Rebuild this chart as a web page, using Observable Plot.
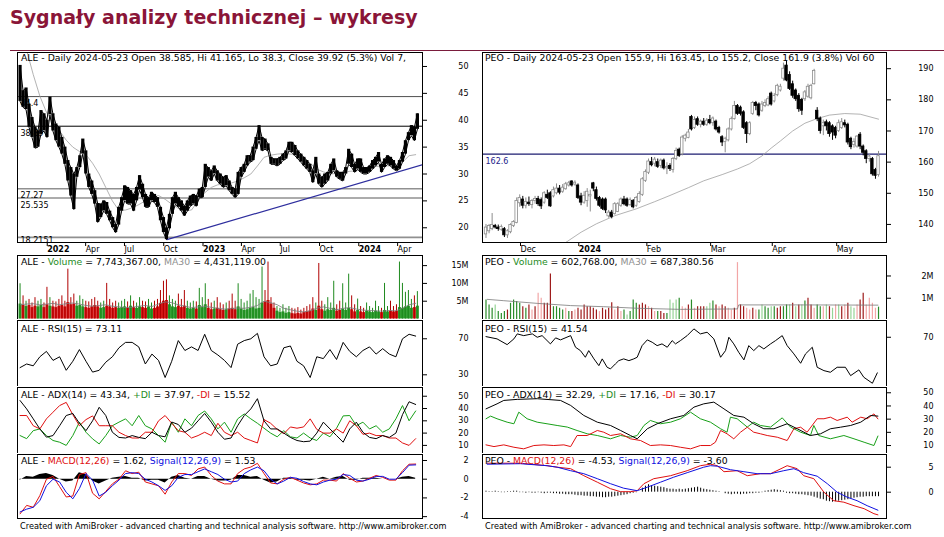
<!DOCTYPE html>
<html><head><meta charset="utf-8">
<script src="https://cdn.jsdelivr.net/npm/d3@7"></script>
<script src="https://cdn.jsdelivr.net/npm/@observablehq/plot@0.6"></script>
<style>
body{margin:0;background:#fff;}
#root{position:relative;width:944px;height:537px;overflow:hidden;background:#fff;font-family:"DejaVu Sans",sans-serif;}
.t{position:absolute;font:9.3px/1 "DejaVu Sans",sans-serif;white-space:nowrap;color:#000;}
.f{font-size:8.2px;}
</style></head><body><div id="root"></div><script>
// ================= DATA =================
const pageTitle = "Sygnały analizy technicznej – wykresy";
const footerText = "Created with AmiBroker - advanced charting and technical analysis software. http://www.amibroker.com";

// ---- ALE (weekly samples from 2021-11-03, 7 days apart) ----
const aleHi = [50.2,45.5,46.0,43.0,40.5,38.7,38.0,41.8,41.2,40.0, 44.3,41.2,39.3,38.7,36.8,35.0,32.5,31.2,30.0,31.2, 33.4,36.5,34.3,30.0,28.7,26.9,24.5,24.4,25.0,24.7, 23.1,21.9,20.6,23.8,25.6,27.8,27.5,26.9,26.2,27.5, 29.7,28.1,26.2,25.6,26.6,26.2,25.6,23.8,21.9,20.0, 22.5,25.6,26.6,25.6,25.0,24.0,25.0,25.9,26.2,25.9, 27.2,27.5,31.8,31.2,30.6,31.5,30.6,30.0,29.4,29.7, 28.7,27.5,27.2,30.3,31.2,31.8,33.4,33.4,35.0,36.8, 39.0,36.8,36.5,35.6,33.1,32.8,32.8,33.1,33.7,34.3, 35.9,35.9,35.3,34.3,33.7,33.1,32.5,31.8,30.6,33.1, 30.0,29.4,30.0,30.3,31.8,32.8,30.6,30.3,30.3,31.2, 34.6,33.7,31.8,32.8,32.8,31.2,31.2,31.5,32.5,33.1, 34.0,31.8,32.8,33.4,33.1,32.5,31.5,32.5,34.0,36.2, 37.7,39.0,38.7,41.2];
const aleLo = [43.5,42.4,42.0,38.7,36.8,34.8,35.0,37.4,38.0,36.8, 41.0,38.0,36.2,35.0,33.7,31.8,28.7,25.9,23.4,29.4, 31.2,33.7,30.0,27.5,26.2,24.4,21.0,21.9,23.1,22.5, 21.3,20.0,19.1,20.5,23.1,25.0,24.4,24.4,23.1,25.0, 27.0,25.6,23.8,23.8,25.0,24.7,23.8,21.3,19.1,17.8, 19.8,22.5,24.4,23.8,23.1,22.2,23.1,24.0,24.4,24.0, 25.6,25.6,27.5,29.4,28.7,30.0,28.7,28.1,27.5,27.8, 26.9,26.2,25.6,26.2,29.4,30.3,31.5,32.2,32.5,34.6, 36.2,34.3,34.6,34.3,31.8,31.8,31.5,31.8,32.5,32.8, 34.3,34.0,33.4,32.8,32.2,31.5,30.9,30.3,28.4,30.0, 28.1,27.5,28.1,28.7,30.0,30.6,29.4,29.0,28.7,30.0, 31.8,31.2,30.3,30.9,30.3,30.0,30.0,30.3,30.9,31.5, 32.2,30.3,31.2,31.8,31.5,30.9,30.6,30.9,32.2,33.7, 36.2,37.1,36.2,38.3];
const aleVolPeak = [9.9,6.5,5.0,5.5,4.5,6.0,5.0,5.5,4.5,8.9, 6.0,5.0,4.8,5.5,6.5,5.0,14.0,6.0,7.0,5.0, 6.5,5.5,5.0,4.8,5.5,6.0,5.0,4.5,5.0,10.0, 5.5,4.5,5.0,4.5,5.0,5.5,4.8,6.5,5.0,4.5, 6.0,5.0,4.8,5.5,4.5,5.0,5.5,8.0,10.6,11.0, 6.5,5.5,5.0,7.0,5.5,8.0,5.0,4.5,5.0,4.8, 8.6,6.0,9.9,5.5,4.5,5.0,6.0,4.5,4.0,4.5, 5.0,7.0,5.0,9.9,5.5,4.5,5.0,7.0,8.0,6.0, 5.5,14.6,8.0,16.0,6.0,4.5,3.5,3.0,4.0,3.0, 3.5,3.0,2.8,3.2,2.5,3.0,3.5,4.0,6.0,4.5, 15.6,5.0,4.0,6.0,4.5,10.6,4.0,5.0,9.9,4.5, 12.6,6.5,4.0,5.6,3.5,3.0,4.5,3.5,3.0,5.0, 3.5,3.0,10.0,3.5,5.0,3.5,4.0,16.0,10.0,7.5, 8.0,5.5,6.5,7.7];
const aleVolBase = [4.2,3.8,3.5,3.8,3.2,3.6,3.4,3.8,3.2,4.0, 3.6,3.4,3.2,3.6,3.8,3.4,4.6,4.0,4.2,3.6, 3.8,3.4,3.2,3.0,3.4,3.8,3.4,3.0,3.2,3.6, 3.4,3.0,3.2,3.0,3.2,3.4,3.0,3.6,3.2,3.0, 3.4,3.2,3.0,3.4,2.8,3.0,3.4,4.4,5.0,5.2, 4.0,3.4,3.2,3.6,3.2,3.6,3.0,2.8,3.0,2.8, 3.8,3.2,4.0,3.0,2.6,2.8,3.0,2.6,2.4,2.6, 2.8,3.0,2.6,3.4,2.8,2.4,2.6,3.0,3.2,2.8, 3.0,4.5,4.8,5.2,4.2,3.0,2.2,1.8,2.0,1.6, 1.8,1.5,1.4,1.6,1.4,1.8,2.0,2.2,2.8,2.4, 3.6,2.6,2.2,2.6,2.4,3.0,2.2,2.4,2.8,2.4, 3.0,2.6,2.0,2.4,2.0,1.8,2.2,2.0,1.8,2.2, 2.0,1.8,2.4,2.0,2.2,2.0,2.2,3.2,3.0,3.4, 3.6,3.0,3.2,3.6];
const aleVolDir = "grgrrrggrr"+"grrrrrrrrg"+"ggrrrrrggr"+"rrrgggrgrg"+"grrggrrrrr"+"gggrrrgggr"+"gggrrgrrrg"+"rrrggggggg"+"ggrrrrgggg"+"grrrrrrrrg"+"rrggggrrgg"+"grrgrrgggg"+"grggrrrggg"+"ggrg";

// ---- ALE indicators (samples from 2021-11-03, 15.45 days apart) ----
const aleMA = [null,53,48.5,44.5,41.5,39.5,38,36.3,35,34.2, 33.6,32,30,27.5,25,23.2,23.3,23.7,24.3,25, 25.6,26,25.3,24.4,23.6,23.2,23.3,25,26.5,27.5, 28,28.1,28.3,28.7,29.3,30,31.5,33.1,33.5,33.7, 33.8,33.7,33.6,33.2,32,30.9,30.4,30,30.1,30.3, 30.5,30.6,30.9,31.2,31.4,31.5,31.5,31.5,32.2,33.4, 33.6];
const aleVolMA = [4.0,4.2,4.3,4.0,4.2,4.4,4.0,4.3,4.5,4.2, 3.8,3.6,3.8,4.0,3.6,3.4,3.2,3.3,3.6,3.8, 3.5,4.2,4.8,4.6,4.0,3.6,3.2,3.4,3.6,3.3, 3.0,2.8,2.9,3.1,3.0,3.3,3.8,5.0,4.6,4.0, 3.0,2.6,2.2,2.0,2.3,3.0,3.4,3.0,2.6,3.0, 3.2,2.8,2.5,2.4,2.3,2.2,2.4,2.3,3.0,4.0, 4.4];
const aleRsi = [38,42,40,50,56,46,50,35,45,58, 45,33,35,44,50,60,66,66,61,42, 53,46,27,45,68,57,61,57,75,57, 52,46,38,64,68,70,76,50,40,42, 60,62,45,40,27,50,48,58,47,66, 56,50,57,61,53,59,53,50,70,75, 73];
const aleAdx = [46.5,39.7,31.6,23.4,16.7,18,26,34.3,36,28, 22,30,41,34.3,20.7,16.5,16,18,16.5,15.5, 20.7,18,17,29,27,20.7,24,30,36,28.9, 20.7,15,16,26,34.3,39.7,48,30,23.4,23.4, 20,16.5,14,13,13.5,20,28.9,23.4,18,12.6, 23.4,28.9,20.7,16.5,15.5,18,16.5,20,35,45.5, 43.3];
const alePdi = [18,15.5,22,23.4,18,14,12.6,10,18,28.9, 20.7,15.3,11.2,18,26,28.9,31.6,26,34.3,26, 23.4,18,12.6,28.9,20.7,31.6,26,34.3,38,31.6, 23.4,28.9,20.7,31.6,35.6,31.6,28,24,20,17, 22,17,16,20,16,14,20,17,24,34, 34.3,26,28.9,23.4,26,20.7,23.4,31.6,42.4,30, 38];
const aleMdi = [34.3,34.3,26,23.4,31.6,37,42.4,45,35,26, 31,34,26,26,26,20.7,18,16,16,20.7, 20.7,30,34.3,28,22,20.7,16,18,20.7,18, 28,20.7,18,20.7,16,14,12,31,28,23, 19.5,25,24,25,31.6,23,20,20,23.4,20, 30,26,19,20,18,18,16,16,12,10, 15.5];
const aleMacd = [-3.7,-2.8,-3.0,-1.75,0.0,0.3,-0.8,-1.9,-1.8,0.5, 0.7,-1.5,-2.1,-1.3,-0.5,0.0,0.9,0.6,0.75,-0.3, -0.5,-0.7,-1.6,-0.3,0.6,0.6,0.4,1.1,1.3,0.4, -0.2,-0.5,-0.5,0.6,1.1,1.3,1.7,0.6,-0.4,-0.5, 0.0,0.2,-0.1,-0.4,-0.6,-0.5,-0.1,-0.1,-0.2,0.6, 0.1,-0.3,-0.2,0.1,0.4,0.2,-0.1,-0.1,0.9,1.6, 1.62];
const aleSignal = [-3.5,-3.2,-3.0,-2.3,-0.7,0.0,-0.3,-1.4,-2.1,-1.0, 0.6,-0.1,-1.8,-1.4,-0.7,-0.1,0.6,0.7,0.6,0.0, -0.3,-0.7,-1.2,-0.7,0.2,0.5,0.5,0.8,1.1,0.8, 0.5,0.0,-0.3,-0.2,0.6,1.0,1.3,0.9,0.0,-0.5, -0.2,0.2,0.1,-0.25,-0.5,-0.6,-0.3,-0.1,0.0,0.5, 0.4,-0.1,-0.2,0.0,0.3,0.3,0.0,0.0,0.7,1.5, 1.53];
const aleHist = [-0.1,0.3,0.2,0.5,0.6,0.4,0.0,-0.3,-0.2,0.7, 0.5,-0.2,-0.5,-0.2,0.1,0.2,0.3,0.1,0.1,-0.2, -0.1,-0.1,-0.4,0.2,0.4,0.1,0.0,0.3,0.3,0.0, -0.2,-0.2,-0.1,0.4,0.4,0.2,0.3,-0.1,-0.4,-0.3, 0.1,0.1,-0.1,-0.1,-0.2,0.0,0.2,0.0,0.2,0.3, -0.1,-0.1,0.1,0.1,0.1,0.0,0.0,0.0,0.2,0.3, 0.1];
const aleLevels = [44.4, 38.89, 27.27, 25.535, 18.2151];
const aleLevelLabels = ["44.4", "38.89", "27.27", "25.535", "18.2151"];
const aleTrendDates = ["2022-10-13", "2024-06-02"];
const aleTrendValues = [17.8, 31.7];
const aleMonthTicks = ["2022-04-01","2022-07-01","2022-10-01","2023-04-01","2023-07-01","2023-10-01","2024-04-01"];
const aleYearTicks = ["2022-01-01","2023-01-01","2024-01-01"];
const aleTitles = {
  price: "ALE - Daily 2024-05-23 Open 38.585, Hi 41.165, Lo 38.3, Close 39.92 (5.3%) Vol 7,",
  vol: ["ALE - ", "Volume", " = 7,743,367.00, ", "MA30", " = 4,431,119.00"],
  rsi: "ALE - RSI(15) = 73.11",
  adx: ["ALE - ADX(14) = 43.34, ", "+DI", " = 37.97, ", "-DI", " = 15.52"],
  macd: ["ALE - ", "MACD(12,26)", " = 1.62, ", "Signal(12,26,9)", " = 1.53"]
};

// ---- PEO (daily candles, trading-day index 0..128, 2023-11-16 .. 2024-05-23) ----
const peoOpen = [136.8,137.8,138.5,139.5,139,138.3,138.5,136.5,137.5,139.5, 140.5,146.8,148,146,147,146.2,147.5,148.2,147.8,147, 149.5,150,149,150,151.5,150.5,151.3,152.5,153.8,152.8, 152.5,149,147,147.5,149,153.2,151,148.5,148,148, 142.6,143.8,143.3,144,146,148,148,146.2,147.5,146, 147.2,149.5,154,156.6,160,159.5,160,158.8,160.5,158, 158.8,157.5,161,164,162.5,167.5,167.8,174.5,171,173.8, 172,173,172,173.5,172.5,173,171,168,166.5,167, 170.5,173.8,178,177.5,176,172.5,169,175.5,179,178.5, 176.5,178,178.2,182,179.5,181.5,183,186.8,191,188, 185,183,181.3,180,180.2,181,180.5,185,176.5,174, 171.5,172.8,172.5,171.5,171,170,171,172.5,172,167.5, 165.5,165,168.8,165,163.5,161,161,157.5,155.9];
const peoHigh = [140,140,143.5,140,139.8,139.8,139,138.3,140.2,141.2, 148.5,149.5,149,148.5,148.8,148,149,149,148.5,150.5, 151,150.5,152,153,152.5,152.8,153.5,153.8,154,154, 153,150,150.5,151.5,151,153.5,152,149,148.5,148.5, 144.5,144.5,147,147,148.5,149,148.5,148.5,148,149, 150.5,155,157.5,161,161.5,161.5,161,161,161,159.8, 159.5,161.5,164.5,164.5,168.5,169,170.5,175,174.5,174.5, 173.5,174,174,175,174.5,173.5,171.5,168.5,168,171, 174.5,179.5,178.5,178,176.5,173,173,179.5,179.5,179, 179.5,180,181,182.5,182,185,185,191.8,192.5,189, 186,183.5,182,180.5,183,185,185,189.8,177.5,174.5, 173.5,173.5,173,172,171.5,173.5,174,173.5,172.5,168, 167.5,168.5,169.5,165.5,164,162.5,161.5,158,163.45];
const peoLow = [135.5,137,138,138.5,137.8,137.8,135.8,135.5,137,139, 140.2,145.5,145,145,145.8,145,146.5,145.8,144.8,146.5, 148,145.5,148.5,149.5,149.5,150,151,152,152,152.3, 148,146,146.5,145.5,144,150.5,147.5,145.5,144.5,143.5, 142,141.8,143,143.8,145.5,146,145.5,145.8,145,145.5, 146.8,149,153.5,156,158.5,158.5,158,158,157.5,156, 157,156.5,160.5,161.5,162,166.5,167.5,170,170.5,171.5, 171,171.5,171.5,172,171.5,170,169,165,163,166.5, 170,173.5,175,174.8,170.5,166,168.5,175,176.5,174.5, 176,177.5,177.8,178,179,181,182.5,186,185.8,183, 180.5,179.5,176,175,179.5,180.5,180,184.8,173,169, 168.5,170,168,167,167.5,169.5,170.5,171,165.5,164, 164.5,164.5,164,162,159.5,160,155.5,154.5,155.2];
const peoClose = [139,139.5,139.8,139,138.5,139.2,136.5,137.8,139.8,140.8, 147.5,148.5,146,147.2,146.5,147.5,148.2,146.5,145.8,150, 148.5,145.8,151,151.5,150.2,151.8,152.9,153.2,152.5,153.4, 148.5,147,149.2,150.5,149.5,151.5,148.2,146,145,144.5, 143.8,142.4,146.5,146.5,148,146.5,146,147.8,145.5,148.5, 149.8,154.5,156.8,160.2,159,160.8,158.5,160.5,158,158.5, 157.8,161,163.6,162,167.9,168.5,169.5,170.5,173.5,172, 173,172,173.3,172.5,174,170.5,169.5,166.3,167.5,170.5, 173.8,178,175.5,175.5,171,169,172.5,179,178,175, 178.5,179,180.2,178.5,181.2,184.5,184.2,190,186.2,183.5, 181.3,180.2,177,176.5,182.4,184.2,184.5,189.3,173.8,170, 172.5,171.5,169,169.5,168.5,172.5,172.8,171.8,166.3,164.8, 166.5,168.2,165,163,161,161.8,156.1,155.6,161.9];
const peoVol = [0.92,0.70,0.55,0.70,0.40,0.32,0.40,0.47,0.77,0.92, 0.85,0.77,0.62,0.55,0.70,0.47,0.62,1.22,1.00,0.77, 0.77,2.09,0.62,0.62,0.55,0.47,0.55,0.40,0.40,0.47, 0.55,0.47,0.70,0.62,0.62,0.55,0.47,0.40,0.55,0.47, 0.55,0.80,0.47,0.62,0.40,0.47,0.25,0.40,0.92,0.77, 0.70,0.77,0.70,0.62,0.55,0.40,0.40,0.40,0.32,0.32, 0.92,0.77,0.92,1.00,0.62,0.55,0.70,0.92,0.55,0.62, 0.62,0.62,0.62,0.77,0.88,0.70,0.62,0.70,0.62,0.55, 0.47,0.55,2.60,0.70,0.62,0.55,0.47,0.55,0.47,0.47, 0.70,0.62,0.55,0.62,0.62,0.55,0.62,0.62,0.70,0.70, 0.77,0.62,0.70,0.70,0.88,1.00,0.70,0.55,0.70,0.62, 0.62,0.70,0.62,0.55,0.70,0.70,0.62,0.70,0.77,0.62, 0.55,0.70,0.92,1.22,0.70,1.00,0.77,0.55,0.60];
const peoVolCol = "GGGgGGGRGG"+"GGRGRpRppR"+"RRGGGGpGRp"+"RRRRRRRpRR"+"RRpRpGgGGG"+"RRRpRpGRRG"+"gggGppRGpR"+"RRggGRpRRp"+"pRpRRppRpG"+"gGGgGRRGGg"+"RgRgGRRpGG"+"pgRgpgRpRg"+"gpRRppppG";
const peoVolMAIdx = [0.4,5.8,16.7,27.6,38.4,49.3,63.4,82,82.4,103.6,127.8];
const peoVolMA = [0.95,0.89,0.77,0.67,0.62,0.55,0.5,0.52,0.7,0.7,0.69];
const peoMAIdx = [26,31,36,42,49,55,60,66,71,77,82,86,90,93,96,100,104,108,112,117,122,128];
const peoMA = [134.2,137.5,140.2,142.8,145,147.3,149.3,151.8,154,156,157.8,159.5,162,164.5,166.8,170,172.5,174,175.1,175.6,175.4,173.8];
const peoLevel = 162.6;
const peoRsiIdx = [0,3.6,6.9,9.1,10.2,12.3,15.1,16.7,18.3,21,22.7,24.3,27.6,29.2,30.8,32.4,33.5,35.2,36.8,37.9,39.5,40.6,42.2,43.3,44.9,46.6,48.2,49.3,50.9,52.6,54.2,55.8,57.4,59.1,60.7,61.8,63.4,65.6,67.8,69.9,72.1,74.3,76.5,78.1,79.2,80.8,82.4,84.1,85.7,87.3,89,90.6,92.8,94.4,96.6,98.2,100.4,102.6,104.2,106.4,108,110.2,112.3,114.5,117.2,118.9,121.6,123.2,126,127.6];
const peoRsi = [70.5,68.7,64.1,68.7,72.7,71.3,72.7,70,71.3,64.7,69.5,67.9,71.3,62,59.3,54,59.3,52.7,47.3,52.7,46,44.7,48.7,51.3,52.7,51.3,52.7,54,63.3,67.9,66,63.3,64.7,62,67.3,64.7,67.3,71.3,76.7,72.7,74,68.7,54,59.3,70,64.7,58,51.9,63.3,59.3,63.3,60.7,64.7,67.3,71.3,63.3,56.7,49.2,56.7,62,46,43.3,42,46,46,39.3,43.9,38,33.2,41.5];
const peoAdxIdx = [0,3.6,5.8,10.2,16.7,24.3,27.6,31.9,36.3,40.6,43.9,47.1,49.3,52.6,55.8,60.2,64.5,67.8,71,74.3,77.6,80.8,84.1,87.3,90.6,93.9,98.2,101.5,105.8,109.1,112.3,115.6,118.9,122.2,125.4,127.8];
const peoAdx = [37.8,41.6,44.2,45,45.5,44.2,40.4,32.8,27.7,25.2,21.4,17.6,15.1,22.7,26.5,30.3,32.8,39.1,41.6,42.9,37.8,32.8,31.5,26.5,22.7,22.7,26.5,22.7,17.6,18.9,22.7,23.9,25.2,27.7,32.8,32.3];
const peoPdiIdx = [0,1.5,3.6,6.9,9.1,10.7,13.4,16.7,19.9,23.2,26.5,29.7,33,36.3,40.6,43.9,47.1,49.3,51.5,53.6,56.9,60.2,63.4,66.7,69.9,73.2,76.5,78.6,79.7,81.9,85.2,87.3,89.5,92.8,96.6,99.3,102.6,105.8,106.9,108.5,112.3,116.7,120,123.3,126.5,127.8];
const peoPdi = [30.3,32.3,30.3,27.7,26.5,35.3,30.3,27.7,26.5,25.2,24,21.4,18.9,17.6,15.1,17.6,16.3,17.6,25.2,29,26.5,27.7,30.3,35.3,30.3,27.7,22.7,20.1,31.5,30.3,24,27.7,25.2,24,31,24,20.1,17.6,25.2,17.6,15.1,17.6,15.1,12.5,10,17.2];
const peoMdiIdx = [0,2.6,5.8,9.1,12.3,15.6,18.9,22.1,25.4,27.6,29.7,33,36.3,38.4,40.6,43.9,47.1,50.4,53.6,56.9,60.2,63.4,66.7,69.9,73.2,74.8,76.5,78.6,80.8,83,85.2,87.3,89.5,91.7,95,98.2,100.4,102.6,104.7,108,110.2,112.3,114.5,117.8,119.4,122.2,124.3,126.5,127.8];
const peoMdi = [10.5,9.2,10.5,8.7,7.5,10,10.5,10,10.5,9.2,17.6,17.6,21.4,20.1,17.6,18.9,15.1,13.8,10,10.5,10,8.7,7.5,10,10,12.5,21.4,18.9,15.1,20.1,23.9,20.1,18.9,17.6,16.3,13.8,22.7,23.9,20.1,30.3,30.3,31.5,29,31.5,27.7,31.5,30.3,34,30.2];
const peoMacdIdx = [0.4,11.2,19.9,23.2,27.6,31.9,36.3,40.6,43.9,47.1,49.3,51.5,54.7,60.2,65.6,69.9,73.2,75.4,77.6,81.9,85.2,89.5,92.8,96.2,98.2,101.5,103.6,106.9,110.2,113.4,116.7,120,123.3,126.5,127.8];
const peoMacd = [5.8,5.8,5.3,5.0,4.7,3.3,2.0,0.7,0.1,0.1,0.3,1.7,2.7,3.3,4.3,5.3,5.6,5.3,4.1,4.3,3.3,3.7,3.7,4.7,5.3,4.7,3.3,2.7,0.0,-1.7,-2.0,-2.7,-3.3,-4.3,-4.53];
const peoSigIdx = [0.4,11.2,19.9,23.2,27.6,31.9,36.3,40.6,44.9,49.3,52.6,56.9,61.2,65.6,71,73.2,75.4,79.7,84.1,88.4,92.8,97.1,100.4,103.6,108,111.3,114.5,117.8,121,124.3,127.8];
const peoSig = [5.6,5.7,5.3,5.0,4.3,3.7,2.7,1.7,0.8,0.3,1.0,2.0,3.0,3.9,5.0,5.3,5.2,4.5,4.1,3.7,3.7,4.3,4.7,3.9,3.2,1.7,0.0,-1.0,-1.7,-2.7,-3.6];
const peoHist = [0.2,0.1,0.1,0.2,0.1,-0.1,-0.1,0.1,0.1,0.2,0.2, -0.1,-0.1,-0.2,-0.1,-0.2,-0.2,-0.1,-0.2,-0.3,-0.2,-0.2,-0.3, -0.3,-0.4,-0.4,-0.5,-0.5, -0.5,-0.6,-0.7,-0.7,-0.8,-0.8,-0.9,-0.9,-1.0,-1.0,-1.1,-1.1,-1.0, -1.0,-0.9,-0.8,-0.7,-0.6,-0.5, -0.3,-0.2,-0.1,0.0, 0.8,1.2,1.5,1.3,1.2,1.1,1.0,0.9, 0.7,0.6,0.6,0.5,0.6,0.5,0.6,0.7,0.8,0.9,1.0,0.8, 0.6,0.5,0.4,0.3,0.2,0.1,0.0, -0.3,-0.4,-0.5,-0.4,-0.4,-0.5,-0.4,-0.4,-0.3,-0.3,-0.2,-0.2,-0.1, 0.2,0.3,0.4,0.5,0.4,0.3,0.2, -0.2,-0.3,-0.3,-0.4,-0.5,-0.5,-0.6,-0.7, -0.8,-1.0,-1.2,-1.4,-1.5, -1.8,-1.9,-2.0,-1.9,-1.8,-1.7,-1.6,-1.5, -1.3,-1.2,-1.1,-1.0,-1.0,-0.9,-0.9,-0.9,-0.9,-0.9];
const peoTickIdx = [10.6, 51.8, 72.6, 92.7, 113.7];
const peoTickLabels = ["Dec", "Feb", "Mar", "Apr", "May"];
const peoYearTickIdx = [29.6];
const peoYearTickLabels = ["2024"];
const peoTitles = {
  price: "PEO - Daily 2024-05-23 Open 155.9, Hi 163.45, Lo 155.2, Close 161.9 (3.8%) Vol 60",
  vol: ["PEO - ", "Volume", " = 602,768.00, ", "MA30", " = 687,380.56"],
  rsi: "PEO - RSI(15) = 41.54",
  adx: ["PEO - ADX(14) = 32.29, ", "+DI", " = 17.16, ", "-DI", " = 30.17"],
  macd: ["PEO - ", "MACD(12,26)", " = -4.53, ", "Signal(12,26,9)", " = -3.60"]
};

// ================= BUILD =================
const DAY = 864e5;
const root = document.getElementById("root");
const FONT = "DejaVu Sans";
const RED = "#e01010", BLUE = "#1010e0", GRAY = "#a0a0a0";

const aleWeeks = aleHi.map((h, w) => ({
  date: new Date(Date.UTC(2021, 10, 3) + w * 7 * DAY), hi: h, lo: aleLo[w],
  vb: aleVolBase[w], vp: aleVolPeak[w], up: aleVolDir[w] === "g"
}));
const aleGrid = aleRsi.map((r, k) => ({
  date: new Date(Date.UTC(2021, 10, 3) + k * 15.45 * DAY), rsi: r, adx: aleAdx[k], pdi: alePdi[k], mdi: aleMdi[k],
  macd: aleMacd[k], sig: aleSignal[k], hist: aleHist[k], ma: aleMA[k], vma: aleVolMA[k]
}));
const aleTrend = aleTrendDates.map((d, i) => ({date: new Date(d), v: aleTrendValues[i]}));
const peoCandles = peoOpen.map((o, i) => ({i, o, h: peoHigh[i], l: peoLow[i], c: peoClose[i], up: peoClose[i] >= o, v: peoVol[i], vc: peoVolCol[i], hist: peoHist[i]}));
const volColors = {G: "#2a8c2a", R: "#9e1b1b", g: "#96d496", p: "#f2a6a6"};
const pts = (xs, ys) => xs.map((x, i) => ({x, y: ys[i]}));

const aleX = {type: "utc", domain: [new Date("2021-10-28"), new Date("2024-06-03")]};
const peoX = {type: "linear", domain: [-1.14, 130.6]};

function yAxis(ticks, pad, fmt) {
  return Plot.axisY(ticks, {anchor: "right", tickSize: 4, tickPadding: pad, textAnchor: "end", label: null, tickFormat: fmt || (d => d)});
}

function pane(left, top, plotH, bottom, mR, xs, yDomain, marks, showX) {
  const svg = Plot.plot({
    width: 463, height: 1 + plotH + bottom,
    marginLeft: 5, marginRight: mR, marginTop: 1, marginBottom: bottom,
    x: Object.assign({label: null}, xs, showX ? {} : {axis: null}),
    y: {domain: yDomain, label: null},
    color: {type: "identity"},
    style: {fontFamily: FONT, fontSize: "8px", color: "black", background: "white", overflow: "visible"},
    marks: [...marks, Plot.frame({stroke: "black"})]
  });
  svg.style.position = "absolute";
  svg.style.left = left + "px";
  svg.style.top = (top - 1) + "px";
  root.appendChild(svg);
}

// ---------- ALE panes ----------
const aL = 12, aR = 53, aPad = 42;
const aleLevelDy = [7, 7, 7, 7, 3];
pane(aL, 52, 190, 13, aR, aleX, [17.26, 52.6], [
  Plot.ruleY(aleLevels, {y: d => d, stroke: (d, i) => ["#505050", "#000000", "#909090", "#909090", "#909090"][i], strokeWidth: (d, i) => [1, 1, 1.6, 1.6, 1.6][i], clip: true}),
  ...aleLevelLabels.map((lab, i) => Plot.text([lab], {y: () => aleLevels[i], text: d => d, frameAnchor: "left", textAnchor: "start", dx: 3, dy: aleLevelDy[i], fill: "black", clip: true})),
  Plot.line(aleGrid, {x: "date", y: "ma", stroke: GRAY, strokeWidth: 0.8, clip: true}),
  Plot.line(aleTrend, {x: "date", y: "v", stroke: "#2e2e9e", strokeWidth: 1.2, clip: true}),
  Plot.ruleX(aleWeeks, {x: "date", y1: "lo", y2: "hi", stroke: "black", strokeWidth: 3.2, clip: true}),
  Plot.line(aleWeeks, {x: "date", y: "hi", stroke: "black", strokeWidth: 1, clip: true}),
  Plot.line(aleWeeks, {x: "date", y: "lo", stroke: "black", strokeWidth: 1, clip: true}),
  yAxis([20, 25, 30, 35, 40, 45, 50], aPad),
  Plot.axisX(aleMonthTicks.map(d => new Date(d)), {anchor: "bottom", tickSize: 4, tickPadding: 0, textAnchor: "start", dx: 2, tickFormat: d3.utcFormat("%b"), label: null}),
  Plot.axisX(aleYearTicks.map(d => new Date(d)), {anchor: "bottom", tickSize: 4, tickPadding: 0, textAnchor: "start", dx: 2, tickFormat: d3.utcFormat("%Y"), fontWeight: "bold", label: null})
], true);

pane(aL, 255, 65, 1, aR, aleX, [-0.42, 17.84], [
  Plot.ruleX(aleWeeks, {x: "date", y1: 0, y2: "vb", stroke: d => d.up ? "#2a9a2a" : "#d41212", strokeWidth: 3, clip: true}),
  Plot.ruleX(aleWeeks, {x: "date", y1: 0, y2: "vp", stroke: d => d.up ? "#1f8a1f" : "#b00000", strokeWidth: 1, clip: true}),
  Plot.line(aleGrid, {x: "date", y: "vma", stroke: "#7a7a7a", strokeWidth: 0.8}),
  yAxis([5, 10, 15], aPad, d => d + "M")
]);

pane(aL, 320, 67, 1, aR, aleX, [15.9, 90.3], [
  Plot.line(aleGrid, {x: "date", y: "rsi", stroke: "black", strokeWidth: 1}),
  yAxis([30, 70], aPad)
]);

pane(aL, 387, 67, 1, aR, aleX, [2.6, 57.1], [
  Plot.line(aleGrid, {x: "date", y: "pdi", stroke: "#18a018", strokeWidth: 1}),
  Plot.line(aleGrid, {x: "date", y: "mdi", stroke: RED, strokeWidth: 1}),
  Plot.line(aleGrid, {x: "date", y: "adx", stroke: "black", strokeWidth: 1}),
  yAxis([10, 20, 30, 40, 50], aPad)
]);

pane(aL, 454, 64, 1, aR, aleX, [-4.2, 2.64], [
  Plot.areaY(aleGrid, {x: "date", y: "hist", fill: "black"}),
  Plot.line(aleGrid, {x: "date", y: "macd", stroke: RED, strokeWidth: 1}),
  Plot.line(aleGrid, {x: "date", y: "sig", stroke: BLUE, strokeWidth: 1}),
  yAxis([-4, -2, 0, 2], aPad)
]);

// ---------- PEO panes ----------
const pL = 477, pR = 54, pPad = 43;
const peoMonthMap = new Map(peoTickIdx.map((t, i) => [t, peoTickLabels[i]]));
const peoYearMap = new Map(peoYearTickIdx.map((t, i) => [t, peoYearTickLabels[i]]));
pane(pL, 52, 190, 13, pR, peoX, [134.2, 195.2], [
  Plot.ruleY([peoLevel], {stroke: "#1c1c70", strokeWidth: 1.3}),
  Plot.text([String(peoLevel)], {y: () => peoLevel, text: d => d, frameAnchor: "left", textAnchor: "start", dx: 3, dy: 7, fill: "#24248a"}),
  Plot.line(pts(peoMAIdx, peoMA), {x: "x", y: "y", stroke: GRAY, strokeWidth: 0.8, clip: true}),
  Plot.ruleX(peoCandles, {x: "i", y1: "l", y2: "h", stroke: d => d.up ? "#8c8c8c" : "black", strokeWidth: 1}),
  Plot.rect(peoCandles, {x1: d => d.i - 0.4, x2: d => d.i + 0.4, y1: "o", y2: "c", fill: d => d.up ? "white" : "black", stroke: d => d.up ? "#8c8c8c" : "black", strokeWidth: 0.8}),
  yAxis([140, 150, 160, 170, 180, 190], pPad),
  Plot.axisX(peoTickIdx, {anchor: "bottom", tickSize: 4, tickPadding: 0, textAnchor: "start", dx: 2, tickFormat: d => peoMonthMap.get(d), label: null}),
  Plot.axisX(peoYearTickIdx, {anchor: "bottom", tickSize: 4, tickPadding: 0, textAnchor: "start", dx: 2, tickFormat: d => peoYearMap.get(d), fontWeight: "bold", label: null})
], true);

pane(pL, 255, 65, 1, pR, peoX, [0, 2.92], [
  Plot.ruleX(peoCandles, {x: "i", y1: 0, y2: "v", stroke: d => volColors[d.vc], strokeWidth: 1.2}),
  Plot.line(pts(peoVolMAIdx, peoVolMA), {x: "x", y: "y", stroke: "#7a7a7a", strokeWidth: 0.8}),
  yAxis([1, 2], pPad, d => d + "M")
]);

pane(pL, 320, 67, 1, pR, peoX, [29.8, 83.4], [
  Plot.line(pts(peoRsiIdx, peoRsi), {x: "x", y: "y", stroke: "black", strokeWidth: 1}),
  yAxis([70], pPad)
]);

pane(pL, 387, 67, 1, pR, peoX, [3.2, 54], [
  Plot.line(pts(peoPdiIdx, peoPdi), {x: "x", y: "y", stroke: "#18a018", strokeWidth: 1}),
  Plot.line(pts(peoMdiIdx, peoMdi), {x: "x", y: "y", stroke: RED, strokeWidth: 1}),
  Plot.line(pts(peoAdxIdx, peoAdx), {x: "x", y: "y", stroke: "black", strokeWidth: 1}),
  yAxis([10, 20, 30, 40, 50], pPad)
]);

pane(pL, 454, 64, 1, pR, peoX, [-5.26, 7.54], [
  Plot.ruleX(peoCandles, {x: "i", y1: 0, y2: "hist", stroke: "black", strokeWidth: 1}),
  Plot.line(pts(peoMacdIdx, peoMacd), {x: "x", y: "y", stroke: RED, strokeWidth: 1}),
  Plot.line(pts(peoSigIdx, peoSig), {x: "x", y: "y", stroke: BLUE, strokeWidth: 1}),
  yAxis([0, 5], pPad)
]);

// ---------- text overlays ----------
function addText(left, top, parts, colors, cls) {
  const d = document.createElement("div");
  d.className = "t" + (cls ? " " + cls : "");
  d.style.left = left + "px"; d.style.top = top + "px";
  (Array.isArray(parts) ? parts : [parts]).forEach((p, i) => {
    const s = document.createElement("span");
    s.textContent = p;
    if (colors && colors[i]) s.style.color = colors[i];
    d.appendChild(s);
  });
  root.appendChild(d);
}
const title = document.createElement("div");
title.textContent = pageTitle;
title.style.cssText = "position:absolute;left:10px;top:8px;font:bold 19px/1 'DejaVu Sans',sans-serif;color:#8a1538;white-space:nowrap;";
root.appendChild(title);
const rule = document.createElement("div");
rule.style.cssText = "position:absolute;left:10px;top:50px;width:934px;height:1px;background:#7a1c3c;";
root.appendChild(rule);

[[21, aleTitles], [485, peoTitles]].forEach(([x, T]) => {
  addText(x, 53, T.price);
  addText(x, 257, T.vol, [null, "#1e8c1e", null, "#909090", null]);
  addText(x, 324, T.rsi);
  addText(x, 390, T.adx, [null, "#1e8c1e", null, RED, null]);
  addText(x, 455.5, T.macd, [null, RED, null, BLUE, null]);
});
addText(20, 521.5, footerText, null, "f");
addText(485, 521.5, footerText, null, "f");
</script></body></html>
